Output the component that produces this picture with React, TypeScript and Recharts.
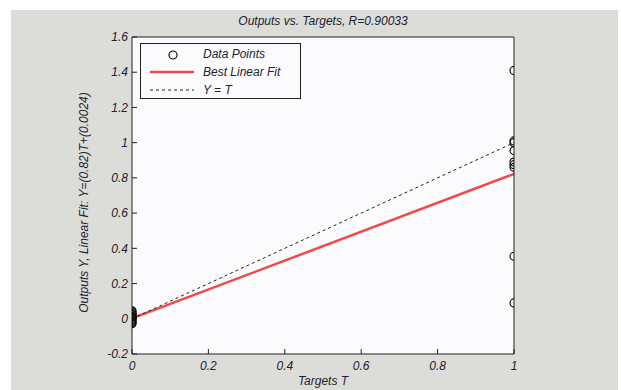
import { ComposedChart, Scatter, Line, XAxis, YAxis, CartesianGrid, Label } from 'recharts';

// network outputs for the two target classes
const outputsAtZero = [0.045, 0.038, 0.03, 0.022, 0.015, 0.008, 0.002, -0.004, -0.01, -0.016, -0.022, -0.028, 0.012, 0.026];
const outputsAtOne = [1.41, 1.01, 1.0, 0.955, 0.89, 0.875, 0.86, 0.355, 0.09];

// linear fit Y = a*T + b
const fitSlope = 0.82;
const fitIntercept = 0.0024;

const xTicks = [0, 0.2, 0.4, 0.6, 0.8, 1];
const yTicks = [-0.2, 0, 0.2, 0.4, 0.6, 0.8, 1, 1.2, 1.4, 1.6];

const points = [
  ...outputsAtZero.map((y) => ({ x: 0, y })),
  ...outputsAtOne.map((y) => ({ x: 1, y })),
];
const fitData = [
  { x: 0, y: fitIntercept },
  { x: 1, y: fitSlope + fitIntercept },
];
const identityData = [
  { x: 0, y: 0 },
  { x: 1, y: 1 },
];

const FONT = '"Liberation Sans", Arial, sans-serif';
const INK = '#1d2330';
const tickStyle = { fill: INK, fontSize: 12, fontStyle: 'italic', fontFamily: FONT };

const Ring = (p: any) => <circle cx={p.cx} cy={p.cy} r={4} fill="none" stroke="#111" strokeWidth={1.2} />;

const YLabel = ({ viewBox }: any) => {
  const x = viewBox.x - 14;
  const y = viewBox.y + viewBox.height / 2 + 7;
  return (
    <text x={x} y={y} transform={`rotate(-90 ${x} ${y})`} textAnchor="middle" fill={INK} fontSize={12} fontStyle="italic" fontFamily={FONT}>
      Outputs Y, Linear Fit: Y=(0.82)T+(0.0024)
    </text>
  );
};

const XLabel = ({ viewBox }: any) => (
  <text x={viewBox.x + viewBox.width / 2} y={viewBox.y + 31} textAnchor="middle" fill={INK} fontSize={12} fontStyle="italic" fontFamily={FONT}>
    Targets T
  </text>
);

export default function App() {
  return (
    <div style={{ position: 'absolute', left: 0, top: 0, width: 621, height: 390, background: '#fff', fontFamily: FONT }}>
      <div style={{ position: 'absolute', left: 11, top: 10, width: 607, height: 380, background: '#dcdcd9' }} />
      <div style={{ position: 'absolute', left: 0, top: 0 }}>
        <ComposedChart width={621} height={390} margin={{ top: 36, right: 106, bottom: 16, left: 102 }}>
          <CartesianGrid horizontal={false} vertical={false} fill="#fbfafc" fillOpacity={1} xAxisId="b" yAxisId="l" />
          <XAxis xAxisId="b" type="number" dataKey="x" domain={[0, 1]} ticks={xTicks} orientation="bottom" height={20}
            tickSize={-5} tickMargin={12} stroke="#222" tick={tickStyle} allowDataOverflow>
            <Label content={<XLabel />} />
          </XAxis>
          <XAxis xAxisId="t" type="number" dataKey="x" domain={[0, 1]} ticks={xTicks} orientation="top" height={1}
            tickSize={-5} stroke="#222" tick={false} allowDataOverflow />
          <YAxis yAxisId="l" type="number" dataKey="y" domain={[-0.2, 1.6]} ticks={yTicks} width={30}
            tickSize={-5} tickMargin={9} stroke="#222" tick={tickStyle} allowDataOverflow>
            <Label content={<YLabel />} />
          </YAxis>
          <YAxis yAxisId="r" type="number" dataKey="y" domain={[-0.2, 1.6]} ticks={yTicks} orientation="right" width={1}
            tickSize={-5} stroke="#222" tick={false} allowDataOverflow />
          <Line xAxisId="b" yAxisId="l" data={fitData} dataKey="y" type="linear" stroke="#ef4a4a" strokeWidth={2.5} dot={false} isAnimationActive={false} />
          <Line xAxisId="b" yAxisId="l" data={identityData} dataKey="y" type="linear" stroke="#222" strokeWidth={1} strokeDasharray="3 3" dot={false} isAnimationActive={false} />
          <Scatter xAxisId="b" yAxisId="l" data={points} dataKey="y" shape={<Ring />} isAnimationActive={false} />
        </ComposedChart>
      </div>
      <div style={{ position: 'absolute', left: 0, top: 14, width: 646, textAlign: 'center', fontSize: 12, fontStyle: 'italic', color: INK }}>
        Outputs vs. Targets, R=0.90033
      </div>
      <div style={{ position: 'absolute', left: 140, top: 43, width: 159, height: 54, border: '1px solid #222', background: '#fbfafc', fontSize: 12, fontStyle: 'italic', color: INK }}>
        <svg width={60} height={54} style={{ position: 'absolute', left: 0, top: 0 }}>
          <circle cx={32} cy={11} r={4} fill="none" stroke="#111" strokeWidth={1.2} />
          <line x1={9} x2={53} y1={28} y2={28} stroke="#ef4a4a" strokeWidth={2.5} />
          <line x1={9} x2={53} y1={46} y2={46} stroke="#222" strokeWidth={1} strokeDasharray="3 3" />
        </svg>
        <div style={{ position: 'absolute', left: 62, top: 3 }}>Data Points</div>
        <div style={{ position: 'absolute', left: 62, top: 21 }}>Best Linear Fit</div>
        <div style={{ position: 'absolute', left: 62, top: 39 }}>Y = T</div>
      </div>
    </div>
  );
}
